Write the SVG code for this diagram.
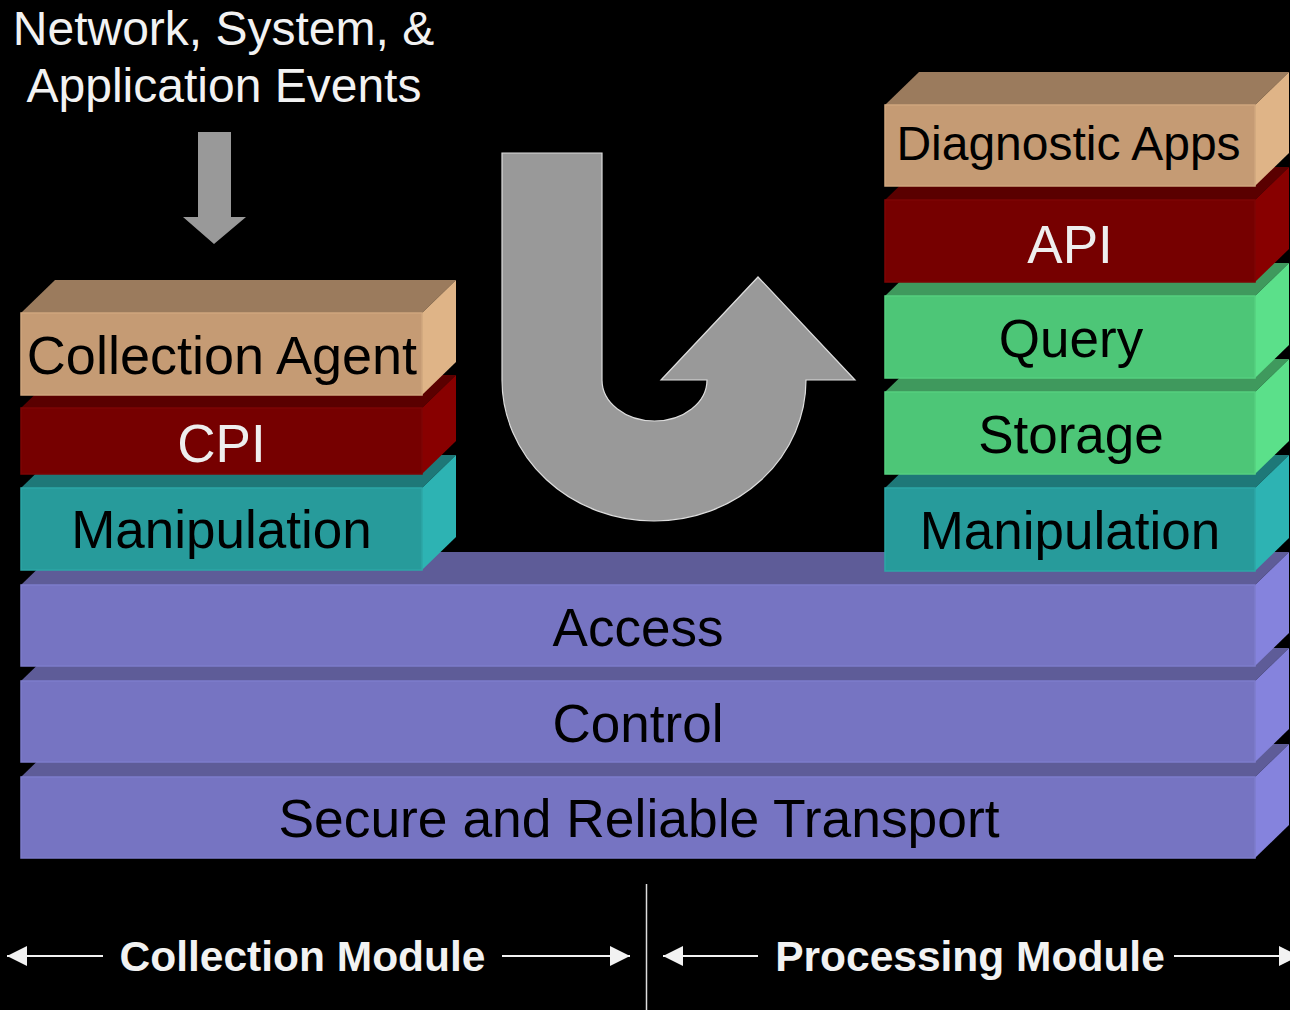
<svg xmlns="http://www.w3.org/2000/svg" width="1290" height="1010" viewBox="0 0 1290 1010">
<style>
text{font-family:"Liberation Sans",Arial,sans-serif;text-anchor:middle}
.lbl{font-size:53px;fill:#000}
.wl{font-size:53px;fill:#EEEEEE}
.hdr{font-size:48px;fill:#F2F2F2}
.mod{font-size:42.5px;font-weight:bold;fill:#F2F2F2}
.tanF{fill:#C59B74;stroke:#CFA67E;stroke-width:1.5}.tanT{fill:#9B7B5D}.tanS{fill:#DFB487}
.redF{fill:#760000;stroke:#7E0404;stroke-width:1.5}.redT{fill:#5A0000}.redS{fill:#880000}
.tealF{fill:#279B9B;stroke:#2CA6A6;stroke-width:1.5}.tealT{fill:#1E7878}.tealS{fill:#2DB3B3}
.grnF{fill:#4DC677;stroke:#55CF7F;stroke-width:1.5}.grnT{fill:#3F995D}.grnS{fill:#5BE08A}
.purF{fill:#7674C2;stroke:#7E7CCB;stroke-width:1.5}.purT{fill:#5E5C98}.purS{fill:#8583DD}
.conn{stroke:#F2F2F2;stroke-width:2;fill:none}
</style>
<defs>
<marker id="ah" viewBox="0 0 20 20" refX="20" refY="10" markerWidth="20" markerHeight="20" markerUnits="userSpaceOnUse" orient="auto-start-reverse">
<path d="M0,0 L20,10 L0,20 Z" fill="#F2F2F2"/>
</marker>
</defs>
<rect width="1290" height="1010" fill="#000"/>

<!-- base layers -->
<g id="transport">
<polygon class="purT" points="21,777 55,744 1289,744 1255,777"/>
<polygon class="purS" points="1255,777 1289,744 1289,825 1255,858"/>
<rect class="purF" x="21" y="777" width="1234" height="81"/>
<text class="lbl" x="639" y="837" style="font-size:53.4px">Secure and Reliable Transport</text>
</g>
<g id="control">
<polygon class="purT" points="21,681 55,648 1289,648 1255,681"/>
<polygon class="purS" points="1255,681 1289,648 1289,729 1255,762"/>
<rect class="purF" x="21" y="681" width="1234" height="81"/>
<text class="lbl" x="638" y="742">Control</text>
</g>
<g id="access">
<polygon class="purT" points="21,585 55,552 1289,552 1255,585"/>
<polygon class="purS" points="1255,585 1289,552 1289,633 1255,666"/>
<rect class="purF" x="21" y="585" width="1234" height="81"/>
<text class="lbl" x="638" y="646">Access</text>
</g>

<!-- left stack -->
<g id="manipulation-left">
<polygon class="tealT" points="21,488 55,455 456,455 422,488"/>
<polygon class="tealS" points="422,488 456,455 456,537 422,570"/>
<rect class="tealF" x="21" y="488" width="401" height="82"/>
<text class="lbl" x="221.5" y="548">Manipulation</text>
</g>
<g id="cpi">
<polygon class="redT" points="21,408 55,375 456,375 422,408"/>
<polygon class="redS" points="422,408 456,375 456,441 422,474"/>
<rect class="redF" x="21" y="408" width="401" height="66"/>
<text class="wl" x="221.5" y="462">CPI</text>
</g>
<g id="collection-agent">
<polygon class="tanT" points="21,313 55,280 456,280 422,313"/>
<polygon class="tanS" points="422,313 456,280 456,362 422,395"/>
<rect class="tanF" x="21" y="313" width="401" height="82"/>
<text class="lbl" x="222" y="374" style="font-size:54px">Collection Agent</text>
</g>

<!-- right stack -->
<g id="manipulation-right">
<polygon class="tealT" points="885,488 919,455 1289,455 1255,488"/>
<polygon class="tealS" points="1255,488 1289,455 1289,538 1255,571"/>
<rect class="tealF" x="885" y="488" width="370" height="83"/>
<text class="lbl" x="1070" y="549">Manipulation</text>
</g>
<g id="storage">
<polygon class="grnT" points="885,392 919,359 1289,359 1255,392"/>
<polygon class="grnS" points="1255,392 1289,359 1289,441 1255,474"/>
<rect class="grnF" x="885" y="392" width="370" height="82"/>
<text class="lbl" x="1071" y="453">Storage</text>
</g>
<g id="query">
<polygon class="grnT" points="885,296 919,263 1289,263 1255,296"/>
<polygon class="grnS" points="1255,296 1289,263 1289,345 1255,378"/>
<rect class="grnF" x="885" y="296" width="370" height="82"/>
<text class="lbl" x="1071" y="357">Query</text>
</g>
<g id="api">
<polygon class="redT" points="885,200 919,167 1289,167 1255,200"/>
<polygon class="redS" points="1255,200 1289,167 1289,249 1255,282"/>
<rect class="redF" x="885" y="200" width="370" height="82"/>
<text class="wl" x="1070" y="263">API</text>
</g>
<g id="diagnostic-apps">
<polygon class="tanT" points="885,105 919,72 1289,72 1255,105"/>
<polygon class="tanS" points="1255,105 1289,72 1289,153 1255,186"/>
<rect class="tanF" x="885" y="105" width="370" height="81"/>
<text class="lbl" x="1068.5" y="160" style="font-size:48px">Diagnostic Apps</text>
</g>

<!-- header -->
<g id="events">
<text class="hdr" x="223.5" y="45">Network, System, &amp;</text>
<text class="hdr" x="224" y="102">Application Events</text>
</g>

<!-- connectors -->
<g id="connectors">
<polygon points="198,132 231,132 231,217 246,217 214,244 183,217 198,217" fill="#999999"/>
<path d="M502,153 L602,153 L602,380 A52.5,41 0 0 0 707,380 L661,380 L758,277 L855,380 L806,380 A152,141 0 0 1 502,380 Z" fill="#999999" stroke="#DDDDDD" stroke-width="1.2"/>
<line x1="646.5" y1="884" x2="646.5" y2="1010" stroke="#DDDDDD" stroke-width="1.5"/>
<line class="conn" x1="103" y1="956" x2="7" y2="956" marker-end="url(#ah)"/>
<line class="conn" x1="502" y1="956" x2="630" y2="956" marker-end="url(#ah)"/>
<line class="conn" x1="758" y1="956" x2="663" y2="956" marker-end="url(#ah)"/>
<line class="conn" x1="1174" y1="956" x2="1299" y2="956" marker-end="url(#ah)"/>
</g>

<g id="modules">
<text class="mod" x="302.5" y="971">Collection Module</text>
<text class="mod" x="970" y="971">Processing Module</text>
</g>
</svg>
